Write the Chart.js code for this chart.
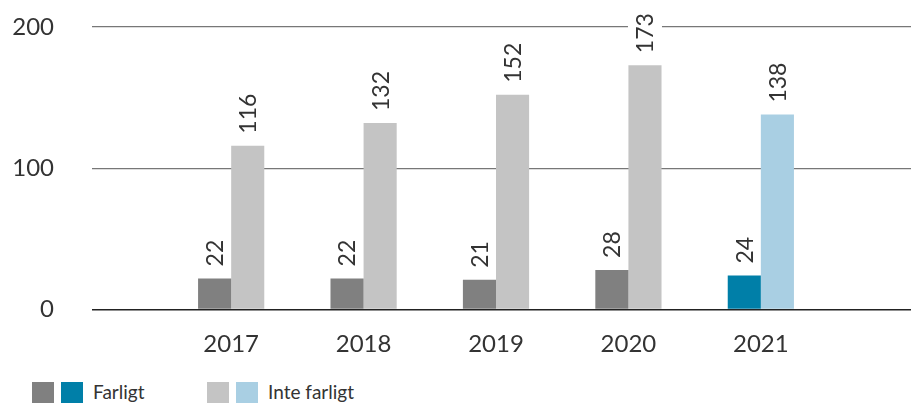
<!DOCTYPE html>
<html>
<head>
<meta charset="utf-8">
<script src="https://cdn.jsdelivr.net/npm/chart.js@4.4.1/dist/chart.umd.min.js"></script>
<style>
  html, body { margin: 0; padding: 0; background: #fff; }
  #wrap { position: relative; width: 911px; height: 403px; overflow: hidden; }
  #c { position: absolute; left: 0; top: 0; }
  .legend { position: absolute; top: 382px; left: 0; height: 21px; font-family: Lato, "Noto Sans", sans-serif; font-size: 19px; color: #333; }
  .sw { position: absolute; top: 0; width: 22px; height: 21px; }
  .lt { position: absolute; top: -2px; white-space: nowrap; line-height: 24px; }
</style>
</head>
<body>
<div id="wrap">
  <canvas id="c" width="911" height="370"></canvas>
  <div class="legend" id="legend"></div>
</div>
<script>
const years = [2017, 2018, 2019, 2020, 2021];
const farligt = [22, 22, 21, 28, 24];
const inteFarligt = [116, 132, 152, 173, 138];
const yTicks = [0, 100, 200];
const seriesNames = ['Farligt', 'Inte farligt'];

const GRAY_DARK = '#808080', TEAL = '#007fa8';
const GRAY_LIGHT = '#c4c4c4', BLUE_LIGHT = '#a9cfe3';
const FONT = 'Lato, "Noto Sans", sans-serif';
const last = years.length - 1;

function eachLabel(chart, fn) {
  const ctx = chart.ctx;
  ctx.font = '23px ' + FONT;
  chart.data.datasets.forEach((ds, di) => {
    chart.getDatasetMeta(di).data.forEach((bar, i) => {
      const txt = String(ds.data[i].y);
      const w = ctx.measureText(txt).width;
      ctx.save();
      ctx.translate(bar.x, bar.y - 12);
      ctx.rotate(-Math.PI / 2);
      fn(ctx, txt, w);
      ctx.restore();
    });
  });
}

const labelPlugin = {
  id: 'barLabels',
  beforeDatasetsDraw(chart) {
    chart.ctx.save();
    eachLabel(chart, (ctx, txt, w) => {
      ctx.fillStyle = '#fff';
      ctx.fillRect(-2, -17, w + 4, 34);
    });
    chart.ctx.restore();
  },
  afterDatasetsDraw(chart) {
    chart.ctx.save();
    eachLabel(chart, (ctx, txt) => {
      ctx.fillStyle = '#333';
      ctx.textAlign = 'left';
      ctx.textBaseline = 'middle';
      ctx.fillText(txt, 0, 1);
    });
    chart.ctx.restore();
  }
};

new Chart(document.getElementById('c'), {
  type: 'bar',
  data: {
    datasets: [
      {
        label: seriesNames[0],
        data: years.map((y, i) => ({ x: y, y: farligt[i] })),
        backgroundColor: (c) => c.dataIndex === last ? TEAL : GRAY_DARK,
        categoryPercentage: 0.5,
        barPercentage: 1.0
      },
      {
        label: seriesNames[1],
        data: years.map((y, i) => ({ x: y, y: inteFarligt[i] })),
        backgroundColor: (c) => c.dataIndex === last ? BLUE_LIGHT : GRAY_LIGHT,
        categoryPercentage: 0.5,
        barPercentage: 1.0
      }
    ]
  },
  options: {
    responsive: false,
    animation: false,
    layout: { padding: { left: 10, right: 0, top: 27, bottom: 11.5 } },
    plugins: { legend: { display: false }, tooltip: { enabled: false } },
    scales: {
      x: {
        type: 'linear',
        offset: false,
        min: years[0] - 1.051,
        max: years[last] + 1.134,
        afterBuildTicks: (s) => { s.ticks = years.map(v => ({ value: v })); },
        afterFit: (s) => { s.height = 49; s.paddingLeft = 0; s.paddingRight = 0; },
        ticks: {
          callback: (v) => String(v),
          font: { family: FONT, size: 24 },
          color: '#333',
          padding: 20,
          maxRotation: 0,
          autoSkip: false
        },
        grid: { display: false, drawTicks: false },
        border: { display: false }
      },
      y: {
        min: yTicks[0],
        max: yTicks[yTicks.length - 1],
        afterBuildTicks: (s) => { s.ticks = yTicks.map(v => ({ value: v })); },
        afterFit: (s) => { s.width = 82; s.paddingTop = 0; s.paddingBottom = 0; },
        ticks: {
          font: { family: FONT, size: 24 },
          color: '#333',
          padding: 38
        },
        grid: {
          drawTicks: false,
          color: (c) => c.tick && c.tick.value === 0 ? '#222' : '#777',
          lineWidth: (c) => c.tick && c.tick.value === 0 ? 1.5 : 1.2
        },
        border: { display: false }
      }
    }
  },
  plugins: [labelPlugin]
});

// HTML legend
const legend = document.getElementById('legend');
const legendItems = [
  { name: seriesNames[0], colors: [GRAY_DARK, TEAL], x: 32 },
  { name: seriesNames[1], colors: [GRAY_LIGHT, BLUE_LIGHT], x: 207 }
];
legendItems.forEach(item => {
  item.colors.forEach((col, k) => {
    const s = document.createElement('div');
    s.className = 'sw';
    s.style.left = (item.x + k * 28.5) + 'px';
    s.style.background = col;
    legend.appendChild(s);
  });
  const t = document.createElement('div');
  t.className = 'lt';
  t.style.left = (item.x + 61) + 'px';
  t.textContent = item.name;
  legend.appendChild(t);
});
</script>
</body>
</html>
